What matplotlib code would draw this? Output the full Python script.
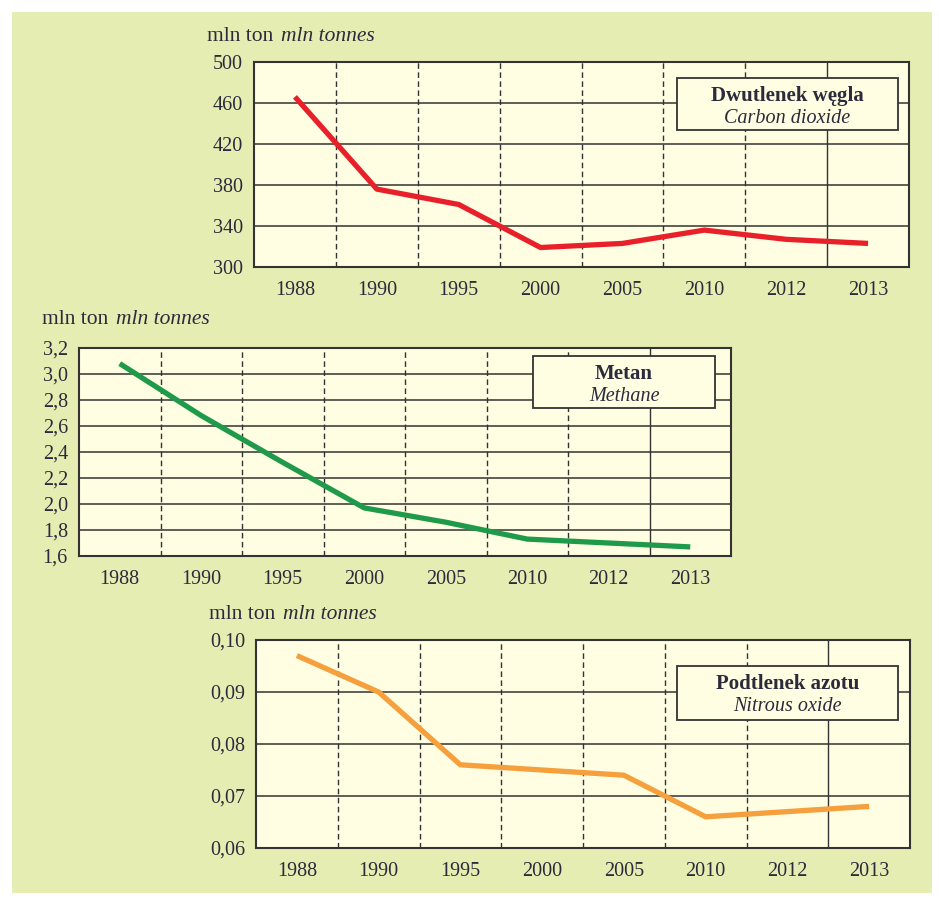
import matplotlib
matplotlib.use("Agg")
import matplotlib.pyplot as plt
from matplotlib.patches import Rectangle
import numpy as np

years = ["1988", "1990", "1995", "2000", "2005", "2010", "2012", "2013"]
co2 = [466, 376, 361, 319, 323, 336, 327, 323]
ch4 = [3.08, 2.68, 2.32, 1.97, 1.86, 1.73, 1.70, 1.67]
n2o = [0.097, 0.090, 0.076, 0.075, 0.074, 0.066, 0.067, 0.068]

co2_ticks = [300, 340, 380, 420, 460, 500]
ch4_ticks = [1.6, 1.8, 2.0, 2.2, 2.4, 2.6, 2.8, 3.0, 3.2]
n2o_ticks = [0.06, 0.07, 0.08, 0.09, 0.10]

plt.rcParams['font.family'] = ['Liberation Serif', 'DejaVu Serif']

W, H = 939, 899
fig = plt.figure(figsize=(W / 100, H / 100), dpi=100)
fig.patch.set_facecolor('white')
fig.patches.append(Rectangle((12 / W, 1 - 893 / H), 920 / W, 881 / H,
                             transform=fig.transFigure, facecolor='#e6edb3',
                             edgecolor='none', zorder=-10))

TXT = '#2b2b3b'
GRID = '#333333'
PLOT_BG = '#fffde2'


def px_axes(x0, y0, x1, y1):
    return fig.add_axes([x0 / W, 1 - y1 / H, (x1 - x0) / W, (y1 - y0) / H])


def panel(rect, values, ticks, fmt, color, unit_xy, box, title, subtitle):
    ax = px_axes(*rect)
    ax.set_facecolor(PLOT_BG)
    x = np.arange(len(years))
    ax.set_xlim(-0.5, len(years) - 0.5)
    ax.set_ylim(ticks[0], ticks[-1])
    for t in ticks[1:-1]:
        ax.axhline(t, color=GRID, lw=1.1, zorder=1)
    for i in range(len(years) - 1):
        ls = '-' if i == len(years) - 2 else (0, (4, 2.5))
        ax.axvline(i + 0.5, color=GRID, lw=1.0, ls=ls, zorder=1)
    ax.plot(x, values, color=color, lw=3.8, solid_capstyle='butt',
            solid_joinstyle='round', zorder=3)
    ax.set_xticks(x)
    ax.set_xticklabels(years)
    ax.set_yticks(ticks)
    ax.set_yticklabels([fmt(t).replace('.', ',') for t in ticks])
    ax.tick_params(axis='both', length=0, labelsize=14.5, colors=TXT)
    ax.tick_params(axis='x', pad=10)
    ax.tick_params(axis='y', pad=8)
    for s in ax.spines.values():
        s.set_color(GRID)
        s.set_linewidth(1.5)
    # unit label
    ux, uy = unit_xy
    t1 = fig.text(ux / W, 1 - uy / H, 'mln ton', fontsize=15.5, color=TXT,
                  va='baseline', ha='left')
    fig.canvas.draw()
    bb = t1.get_window_extent()
    fig.text((bb.x1 + 8) / W, 1 - uy / H, 'mln tonnes', fontsize=15.5,
             color=TXT, style='italic', va='baseline', ha='left')
    # label box
    bx0, by0, bx1, by1 = box
    fig.patches.append(Rectangle((bx0 / W, 1 - by1 / H), (bx1 - bx0) / W,
                                 (by1 - by0) / H, transform=fig.transFigure,
                                 facecolor=PLOT_BG, edgecolor=GRID, lw=1.3,
                                 zorder=5))
    cx = (bx0 + bx1) / 2 / W
    fig.text(cx, 1 - (by0 + 23) / H, title, fontsize=15, fontweight='bold',
             color=TXT, ha='center', va='baseline', zorder=6)
    fig.text(cx, 1 - (by0 + 45) / H, subtitle, fontsize=14.5, style='italic',
             color=TXT, ha='center', va='baseline', zorder=6)
    return ax


panel((254, 62, 909, 267), co2, co2_ticks, lambda t: f"{t:d}", '#e8202a',
      (207, 41), (677, 78, 898, 130), 'Dwutlenek węgla', 'Carbon dioxide')
panel((79, 348, 731, 556), ch4, ch4_ticks, lambda t: f"{t:.1f}", '#1f9a4a',
      (42, 324), (533, 356, 715, 408), 'Metan', 'Methane')
panel((256, 640, 910, 848), n2o, n2o_ticks, lambda t: f"{t:.2f}", '#f5a03c',
      (209, 619), (677, 666, 898, 720), 'Podtlenek azotu', 'Nitrous oxide')

fig.savefig('out.png', dpi=100)
